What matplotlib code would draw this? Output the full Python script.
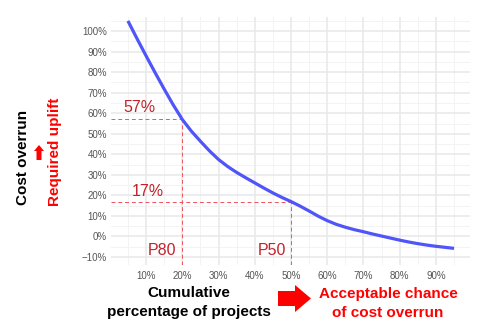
import matplotlib
matplotlib.use("Agg")
import matplotlib.pyplot as plt
from matplotlib.patches import FancyArrow

plt.rcParams['font.family'] = ['Liberation Sans', 'DejaVu Sans']

# cumulative share of projects (%) vs. cost overrun (%)
cum_pct = [5, 7.5, 10, 12.5, 15, 17.5, 20, 22.5, 25, 27.5, 30, 32.5, 35, 37.5,
           40, 42.5, 45, 47.5, 50, 52.5, 55, 57.5, 60, 62.5, 65, 67.5, 70,
           72.5, 75, 77.5, 80, 82.5, 85, 87.5, 90, 92.5, 95]
overrun = [105, 96.4, 88.0, 79.8, 71.8, 64.1, 57.0, 51.3, 46.4, 41.7, 37.5, 34.1,
           31.2, 28.6, 26.1, 23.6, 21.2, 19.0, 17.0, 14.8, 12.4, 9.9, 7.7, 5.9,
           4.5, 3.3, 2.3, 1.2, 0.2, -0.8, -1.8, -2.7, -3.5, -4.2, -4.8, -5.3, -5.8]

# reference percentiles
p_labels = ["P80", "P50"]
p_x = [20, 50]
p_y = [57, 17]

x_ticks = [10, 20, 30, 40, 50, 60, 70, 80, 90]
x_tick_labels = ["10%", "20%", "30%", "40%", "50%", "60%", "70%", "80%", "90%"]
y_ticks = [-10, 0, 10, 20, 30, 40, 50, 60, 70, 80, 90, 100]
y_tick_labels = ["\u221210%", "0%", "10%", "20%", "30%", "40%", "50%", "60%",
                 "70%", "80%", "90%", "100%"]

xlim = (0.33, 99.4)
ylim = (-13.9, 107.0)

fig = plt.figure(figsize=(5, 3.23), dpi=100)
ax = fig.add_axes([0.222, 0.1796, 0.718, 0.7684])

# grid
for v in range(5, 100, 10):
    ax.axvline(v, color="#f3f3f3", lw=0.7, zorder=0)
for v in range(-5, 106, 10):
    ax.axhline(v, color="#f3f3f3", lw=0.7, zorder=0)
for v in x_ticks:
    ax.axvline(v, color="#e8e8e8", lw=1.1, zorder=0)
for v in y_ticks:
    ax.axhline(v, color="#e8e8e8", lw=1.1, zorder=0)

# dashed guides to the curve
for px, py in zip(p_x, p_y):
    ax.plot([xlim[0], px], [py, py], color="#f0545c", lw=0.7, ls=(0, (4, 3)), zorder=1)
    ax.plot([px, px], [ylim[0], py], color="#f0545c", lw=0.7, ls=(0, (4, 3)), zorder=1)

ax.plot(cum_pct, overrun, color="#4f55f8", lw=2.3, solid_capstyle="butt",
        solid_joinstyle="round", zorder=3)

dark_red = "#c0232b"
ax.text(8.2, p_y[0] + 6, f"{p_y[0]}%", color=dark_red, fontsize=11.5, ha="center", va="center")
ax.text(10.6, p_y[1] + 4.7, f"{p_y[1]}%", color=dark_red, fontsize=11.5, ha="center", va="center")
ax.text(14.3, -7, p_labels[0], color=dark_red, fontsize=11.5, ha="center", va="center")
ax.text(44.8, -7, p_labels[1], color=dark_red, fontsize=11.5, ha="center", va="center")

ax.set_xlim(*xlim)
ax.set_ylim(*ylim)
ax.set_xticks(x_ticks)
ax.set_xticklabels(x_tick_labels)
ax.set_yticks(y_ticks)
ax.set_yticklabels(y_tick_labels)
ax.tick_params(length=0, labelsize=7, labelcolor="#555555")
ax.tick_params(axis="x", pad=4)
ax.tick_params(axis="y", pad=3)
for s in ax.spines.values():
    s.set_visible(False)

# axis titles
W, H = 500, 323
def fx(px):
    return px / W
def fy(py):
    return 1 - py / H

fig.text(fx(189), fy(293), "Cumulative", fontsize=11, fontweight="bold",
         ha="center", va="center")
fig.text(fx(189), fy(312), "percentage of projects", fontsize=11, fontweight="bold",
         ha="center", va="center")
fig.text(fx(388), fy(294), "Acceptable chance", fontsize=11, fontweight="bold",
         color="#ff0000", ha="center", va="center")
fig.text(fx(388), fy(313), "of cost overrun", fontsize=11, fontweight="bold",
         color="#ff0000", ha="center", va="center")

fig.text(fx(23), fy(157), "Cost overrun", fontsize=11, fontweight="bold",
         rotation=90, ha="center", va="center")
fig.text(fx(55), fy(152), "Required uplift", fontsize=11, fontweight="bold",
         color="#ff0000", rotation=90, ha="center", va="center")

# block arrows (figure pixel coordinates)
pix = fig.transFigure
fig.patches.append(FancyArrow(fx(278), fy(298.5), fx(311) - fx(278), 0,
                              width=15 / H, head_width=27 / H,
                              head_length=fx(16), length_includes_head=True,
                              color="#ff0000", lw=0, transform=pix))
fig.patches.append(FancyArrow(fx(39), fy(160), 0, 15 / H,
                              width=fx(5), head_width=fx(10),
                              head_length=6 / H, length_includes_head=True,
                              color="#ff0000", lw=0, transform=pix))

fig.savefig("out.png", dpi=100)
